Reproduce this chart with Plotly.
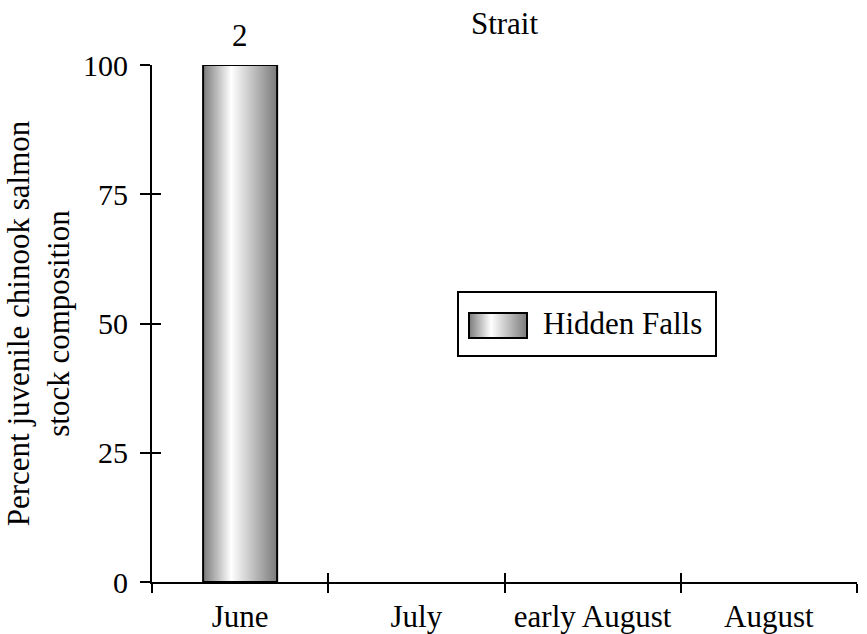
import base64
import plotly.graph_objects as go

categories = ["June", "July", "early August", "August"]
percent_hidden_falls = [100, None, None, None]
sample_sizes = ["2", "", "", ""]
y_ticks = [0, 25, 50, 75, 100]
series_name = "Hidden Falls"

BAR_WIDTH = 0.42
FONT = "Liberation Serif"
FS = 31
GRAD = [[0, "#7a7a7a"], [0.38, "#ffffff"], [1, "#7a7a7a"]]

W, H = 867, 634

centers = list(range(len(categories)))
boundaries = [c - 0.5 for c in centers] + [centers[-1] + 0.5]
xr = [boundaries[0], boundaries[-1]]

fig = go.Figure()

# gradient bars built from data values
for i, (v, n) in enumerate(zip(percent_hidden_falls, sample_sizes)):
    if v is None:
        continue
    x0, x1 = i - BAR_WIDTH / 2, i + BAR_WIDTH / 2
    fig.add_trace(go.Scatter(
        x=[x0, x0, x1, x1, x0], y=[0, v, v, 0, 0],
        mode="lines", fill="toself",
        line=dict(color="black", width=2),
        fillgradient=dict(type="horizontal", colorscale=GRAD),
        name=series_name, showlegend=False, hoverinfo="skip",
    ))
    fig.add_annotation(x=i, y=v, text=n, showarrow=False, yanchor="bottom",
                       yshift=10, font=dict(family=FONT, size=FS, color="black"))

# helper invisible traces so overlay axes render
for xa, ya in (("x2", "y"), ("x3", "y"), ("x", "y2")):
    fig.add_trace(go.Scatter(x=centers, y=[0] * len(centers), xaxis=xa, yaxis=ya,
                             mode="markers", marker=dict(opacity=0),
                             showlegend=False, hoverinfo="skip"))

tickfont = dict(family=FONT, size=FS, color="black")

# legend (box + gradient swatch + label)
svg = ('<svg xmlns="http://www.w3.org/2000/svg" width="60" height="27" viewBox="0 0 60 27">'
       '<defs><linearGradient id="g" x1="0" y1="0" x2="1" y2="0">'
       '<stop offset="0" stop-color="#7a7a7a"/><stop offset="0.38" stop-color="#ffffff"/>'
       '<stop offset="1" stop-color="#7a7a7a"/></linearGradient></defs>'
       '<rect x="1" y="1" width="58" height="25" fill="url(#g)" stroke="black" stroke-width="2"/></svg>')
svg_uri = "data:image/svg+xml;base64," + base64.b64encode(svg.encode()).decode()

# plot area in page pixels
PL, PR, PT, PB = 152, 857, 65, 582
PW, PH = PR - PL, PB - PT
def px(x): return (x - PL) / PW
def py(y): return (PB - y) / PH

fig.add_shape(type="rect", xref="paper", yref="paper",
              x0=px(458), x1=px(716), y0=py(356), y1=py(292),
              line=dict(color="black", width=2), fillcolor="rgba(0,0,0,0)", layer="above")
fig.add_layout_image(source=svg_uri, xref="paper", yref="paper",
                     x=px(468), y=py(312), sizex=60 / PW, sizey=27 / PH,
                     xanchor="left", yanchor="top", sizing="stretch", layer="above")
fig.add_annotation(xref="paper", yref="paper", x=px(541), y=py(323), text=series_name,
                   showarrow=False, xanchor="left", yanchor="middle",
                   font=dict(family=FONT, size=FS, color="black"))

fig.update_layout(
    width=W, height=H,
    margin=dict(l=PL, r=W - PR, t=PT, b=H - PB, autoexpand=False),
    paper_bgcolor="white", plot_bgcolor="white",
    font=dict(family=FONT, size=FS, color="black"),
    showlegend=False,
    title=dict(text="Strait", x=504.5 / W, xanchor="center",
               y=1 - 23 / H, yanchor="middle", yref="container",
               font=dict(family=FONT, size=FS, color="black")),
    xaxis=dict(range=xr, tickmode="array", tickvals=boundaries, showticklabels=False,
               ticks="outside", ticklen=9, tickwidth=2, tickcolor="black",
               showline=True, linewidth=2, linecolor="black", automargin=False,
               showgrid=False, zeroline=False, fixedrange=True),
    xaxis2=dict(range=xr, overlaying="x", anchor="y", side="bottom",
                tickmode="array", tickvals=boundaries, showticklabels=False,
                ticks="inside", ticklen=9, tickwidth=2, tickcolor="black", automargin=False,
                showline=False, showgrid=False, zeroline=False),
    xaxis3=dict(range=xr, overlaying="x", anchor="y", side="bottom",
                tickmode="array", tickvals=centers, ticktext=categories,
                ticks="outside", ticklen=7, tickcolor="rgba(0,0,0,0)", automargin=False,
                tickfont=tickfont, showline=False, showgrid=False, zeroline=False),
    yaxis=dict(range=[0, 100], tickmode="array", tickvals=y_ticks,
               ticks="outside", ticklen=10, tickwidth=2, tickcolor="black",
               tickfont=dict(family=FONT, size=30, color="black"), ticklabelstandoff=6,
               automargin=False,
               showline=True, linewidth=2, linecolor="black",
               showgrid=False, zeroline=False,
               title=dict(text="Percent juvenile chinook salmon<br>stock composition",
                          font=dict(family=FONT, size=FS, color="black"), standoff=4)),
    yaxis2=dict(range=[0, 100], overlaying="y", anchor="x", side="left",
                tickmode="array", tickvals=y_ticks, showticklabels=False,
                ticks="inside", ticklen=9, tickwidth=2, tickcolor="black", automargin=False,
                showline=False, showgrid=False, zeroline=False),
)

fig.write_html("out.html", config={"displayModeBar": False},
               post_script="document.body.style.margin='0';")
